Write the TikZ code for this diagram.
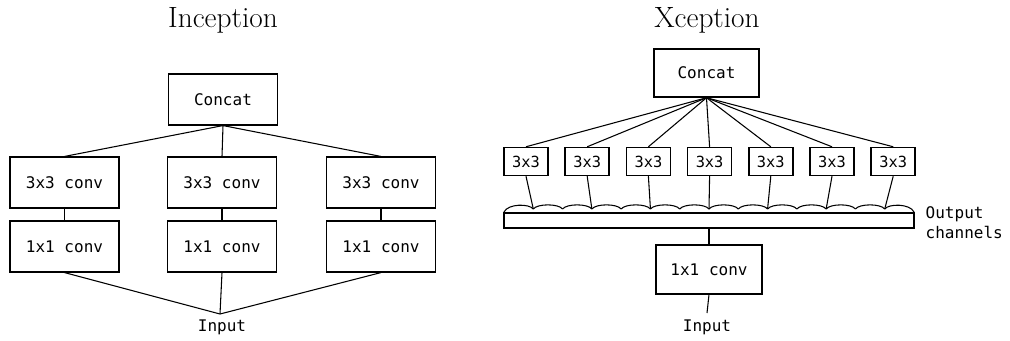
\documentclass[tikz,border=0pt]{standalone}
\usepackage{fontspec}
\usepackage{tikz}
\newfontfamily\boxfont{DejaVu Sans Mono}

\begin{document}
\begin{tikzpicture}[
    x=0.75pt, y=-0.75pt,
    every node/.style={font=\boxfont\fontsize{12}{15}\selectfont},
    layerbox/.style={draw, line width=1.1pt, inner sep=0pt, minimum width=82pt, minimum height=38pt},
    kernbox/.style={draw, line width=1.1pt, inner sep=0pt, minimum width=33pt, minimum height=21pt, font=\boxfont\fontsize{11.5}{14}\selectfont},
    link/.style={line width=0.8pt},
    wave/.style={line width=0.8pt},
    title/.style={anchor=base, font=\fontsize{22}{26}\selectfont}
]
\useasboundingbox (0,0) rectangle (1010,340);

% left: inception module
\node[title] (tinc) at (223,27) {Inception};
\node[layerbox] (icat) at (223,99.5) {Concat};
\node[layerbox] (ia1) at (64.5,182.5) {3x3 conv};
\node[layerbox] (ia2) at (222,182.5) {3x3 conv};
\node[layerbox] (ia3) at (381,182.5) {3x3 conv};
\node[layerbox] (ib1) at (64.5,246.5) {1x1 conv};
\node[layerbox] (ib2) at (222,246.5) {1x1 conv};
\node[layerbox] (ib3) at (381,246.5) {1x1 conv};
\coordinate (ijoin) at (220,314);
\node (iin) at (222,327.5) {Input};

\foreach \n in {1,2,3} {
    \draw[link] (icat.south) -- (ia\n.north);
    \draw[link] (ia\n.south) -- (ib\n.north);
    \draw[link] (ib\n.south) -- (ijoin);
}

% right: xception module
\node[title] (txcp) at (707,27) {Xception};
\node[layerbox, minimum width=78.5pt, minimum height=36pt] (xcat) at (706.5,73) {Concat};
\node[draw, line width=1.1pt, inner sep=0pt, minimum width=307.5pt, minimum height=11.25pt] (chan) at (709,220.5) {};
\node[anchor=west, align=left] (chlbl) at (921,223) {Output\\channels};
\node[layerbox, minimum width=79.5pt, minimum height=36.5pt] (xb) at (709,269.5) {1x1 conv};
\coordinate (xjoin) at (707,313);
\node (xin) at (707,327.5) {Input};

% one 3x3 per channel, hooked onto the wavy top of the bar
\foreach \k in {0,...,6} {
    \node[kernbox] (k\k) at (526+61.2*\k,161.5) {3x3};
    \coordinate (j\k) at (533.3+58.57*\k,209);
    \draw[link] (xcat.south) -- (k\k.north);
    \draw[link] (k\k.south) -- (j\k);
}
\foreach \i in {0,...,13} {
    \pgfmathsetmacro\xa{504+\i*29.286}
    \pgfmathsetmacro\xb{504+(\i+1)*29.286}
    \pgfmathsetmacro\ya{ifthenelse(\i==0,212,209)}
    \pgfmathsetmacro\yb{ifthenelse(\i==13,212,209)}
    \draw[wave] (\xa,\ya) .. controls (\xa+4,203.5) and (\xb-4,203.5) .. (\xb,\yb);
}

\draw[link] (chan.south) -- (xb.north);
\draw[link] (xb.south) -- (xjoin);
\end{tikzpicture}
\end{document}
